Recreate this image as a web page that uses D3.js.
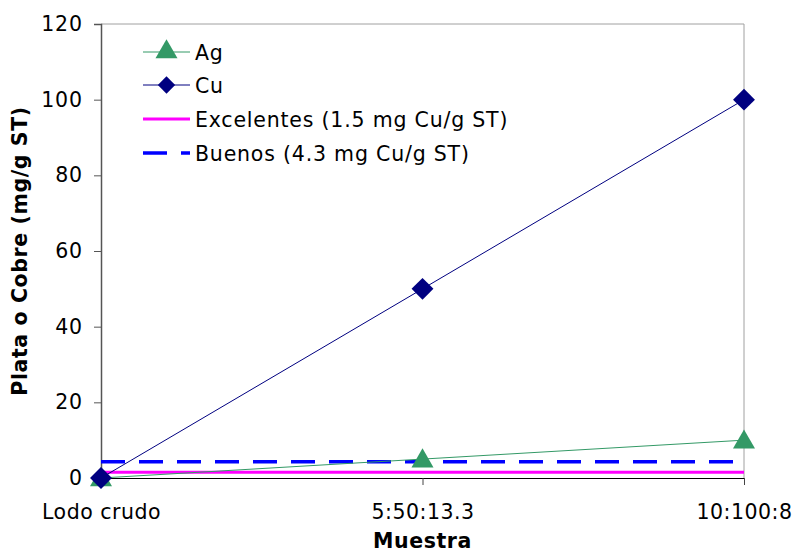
<!DOCTYPE html>
<html>
<head>
<meta charset="utf-8">
<script src="https://cdn.jsdelivr.net/npm/d3@7"></script>
<style>
  html, body { margin: 0; padding: 0; background: #fff; }
  svg { display: block; font-family: Verdana, "DejaVu Sans", sans-serif; }
</style>
</head>
<body>
<svg id="chart" width="796" height="552"></svg>
<script>
// Sample categories and measured values (mg/g ST)
const categories = ["Lodo crudo", "5:50:13.3", "10:100:8"];
const agValues = [0, 5, 10];
const cuValues = [0, 50, 100];
const excelentes = 1.5;
const buenos = 4.3;
const yTicks = [0, 20, 40, 60, 80, 100, 120];
const legendLabels = ["Ag", "Cu", "Excelentes (1.5 mg Cu/g ST)", "Buenos (4.3 mg Cu/g ST)"];

const FONT = "Verdana, 'DejaVu Sans', sans-serif";
const FS = 20.5;
const LS = 0.8;

const svg = d3.select("#chart");
const margin = { left: 101, right: 52, top: 24, bottom: 74 };
const W = 796, H = 552;
const x0 = margin.left, x1 = W - margin.right;
const y0 = H - margin.bottom, y1 = margin.top;

const x = d3.scalePoint().domain(categories).range([x0, x1]);
const y = d3.scaleLinear().domain([0, 120]).range([y0, y1]);

// Plot frame (top and right)
svg.append("path")
  .attr("d", `M${x0},${y1}H${x1}V${y0}`)
  .attr("fill", "none").attr("stroke", "#a0a0a0").attr("stroke-width", 1);

// Y axis
const yAxis = svg.append("g")
  .attr("transform", `translate(${x0},0)`)
  .call(d3.axisLeft(y).tickValues(yTicks).tickSize(7).tickPadding(12));
yAxis.select(".domain").attr("stroke", "#555").attr("stroke-width", 1.5);
yAxis.selectAll(".tick line").attr("stroke", "#555");
yAxis.selectAll("text").attr("font-size", FS).attr("fill", "#000").attr("font-family", FONT)
  .attr("letter-spacing", LS).attr("dx", LS);

// X axis
const xAxis = svg.append("g")
  .attr("transform", `translate(0,${y0})`)
  .call(d3.axisBottom(x).tickSize(7).tickPadding(19));
xAxis.select(".domain").attr("stroke", "#000").attr("stroke-width", 1);
xAxis.selectAll(".tick line").attr("stroke", "#444");
xAxis.selectAll("text").attr("font-size", FS).attr("fill", "#000").attr("font-family", FONT)
  .attr("letter-spacing", 0.5);

// Axis titles
svg.append("text")
  .attr("x", (x0 + x1) / 2).attr("y", 548)
  .attr("text-anchor", "middle").attr("font-size", FS).attr("font-weight", "bold")
  .attr("letter-spacing", 0.6)
  .text("Muestra");
svg.append("text")
  .attr("transform", `translate(27,${(y0 + y1) / 2}) rotate(-90)`)
  .attr("text-anchor", "middle").attr("font-size", FS).attr("font-weight", "bold")
  .attr("letter-spacing", 0.6)
  .text("Plata o Cobre (mg/g ST)");

// Reference thresholds
svg.append("line")
  .attr("x1", x0).attr("x2", x1).attr("y1", y(excelentes)).attr("y2", y(excelentes))
  .attr("stroke", "#ff00ff").attr("stroke-width", 3);
svg.append("line")
  .attr("x1", x0).attr("x2", x1).attr("y1", y(buenos)).attr("y2", y(buenos))
  .attr("stroke", "#0000ff").attr("stroke-width", 3.5).attr("stroke-dasharray", "24,14");

const line = d3.line().x((d, i) => x(categories[i])).y(d => y(d));
const tri = d3.symbol().type(d3.symbolTriangle).size(210);
const dia = d3.symbol().type(d3.symbolSquare).size(240);

// Ag series
svg.append("path").datum(agValues).attr("d", line)
  .attr("fill", "none").attr("stroke", "#339966").attr("stroke-width", 1);
svg.selectAll(".ag").data(agValues).enter().append("path")
  .attr("d", tri)
  .attr("transform", (d, i) => `translate(${x(categories[i])},${y(d) + 2})`)
  .attr("fill", "#339966");

// Cu series
svg.append("path").datum(cuValues).attr("d", line)
  .attr("fill", "none").attr("stroke", "#000080").attr("stroke-width", 1);
svg.selectAll(".cu").data(cuValues).enter().append("path")
  .attr("d", dia)
  .attr("transform", (d, i) => `translate(${x(categories[i])},${y(d)}) rotate(45)`)
  .attr("fill", "#000080");

// Legend
const lg = svg.append("g").attr("transform", "translate(143,0)");
const rows = [52, 85, 119, 153];
legendLabels.forEach((lab, i) => {
  const yy = rows[i];
  const g = lg.append("g");
  if (i === 0) {
    g.append("line").attr("x1", 0).attr("x2", 47).attr("y1", yy).attr("y2", yy)
      .attr("stroke", "#339966").attr("stroke-width", 1);
    g.append("path").attr("d", tri).attr("transform", `translate(23.5,${yy})`).attr("fill", "#339966");
  } else if (i === 1) {
    g.append("line").attr("x1", 0).attr("x2", 47).attr("y1", yy).attr("y2", yy)
      .attr("stroke", "#000080").attr("stroke-width", 1);
    g.append("path").attr("d", d3.symbol().type(d3.symbolSquare).size(150))
      .attr("transform", `translate(23.5,${yy}) rotate(45)`).attr("fill", "#000080");
  } else if (i === 2) {
    g.append("line").attr("x1", 0).attr("x2", 47).attr("y1", yy).attr("y2", yy)
      .attr("stroke", "#ff00ff").attr("stroke-width", 3);
  } else {
    g.append("line").attr("x1", 0).attr("x2", 47).attr("y1", yy).attr("y2", yy)
      .attr("stroke", "#0000ff").attr("stroke-width", 3.5).attr("stroke-dasharray", "24,14");
  }
  g.append("text").attr("x", 52).attr("y", yy + 8)
    .attr("font-size", FS).attr("fill", "#000").attr("font-family", FONT)
    .attr("letter-spacing", LS).text(lab);
});
</script>
</body>
</html>
